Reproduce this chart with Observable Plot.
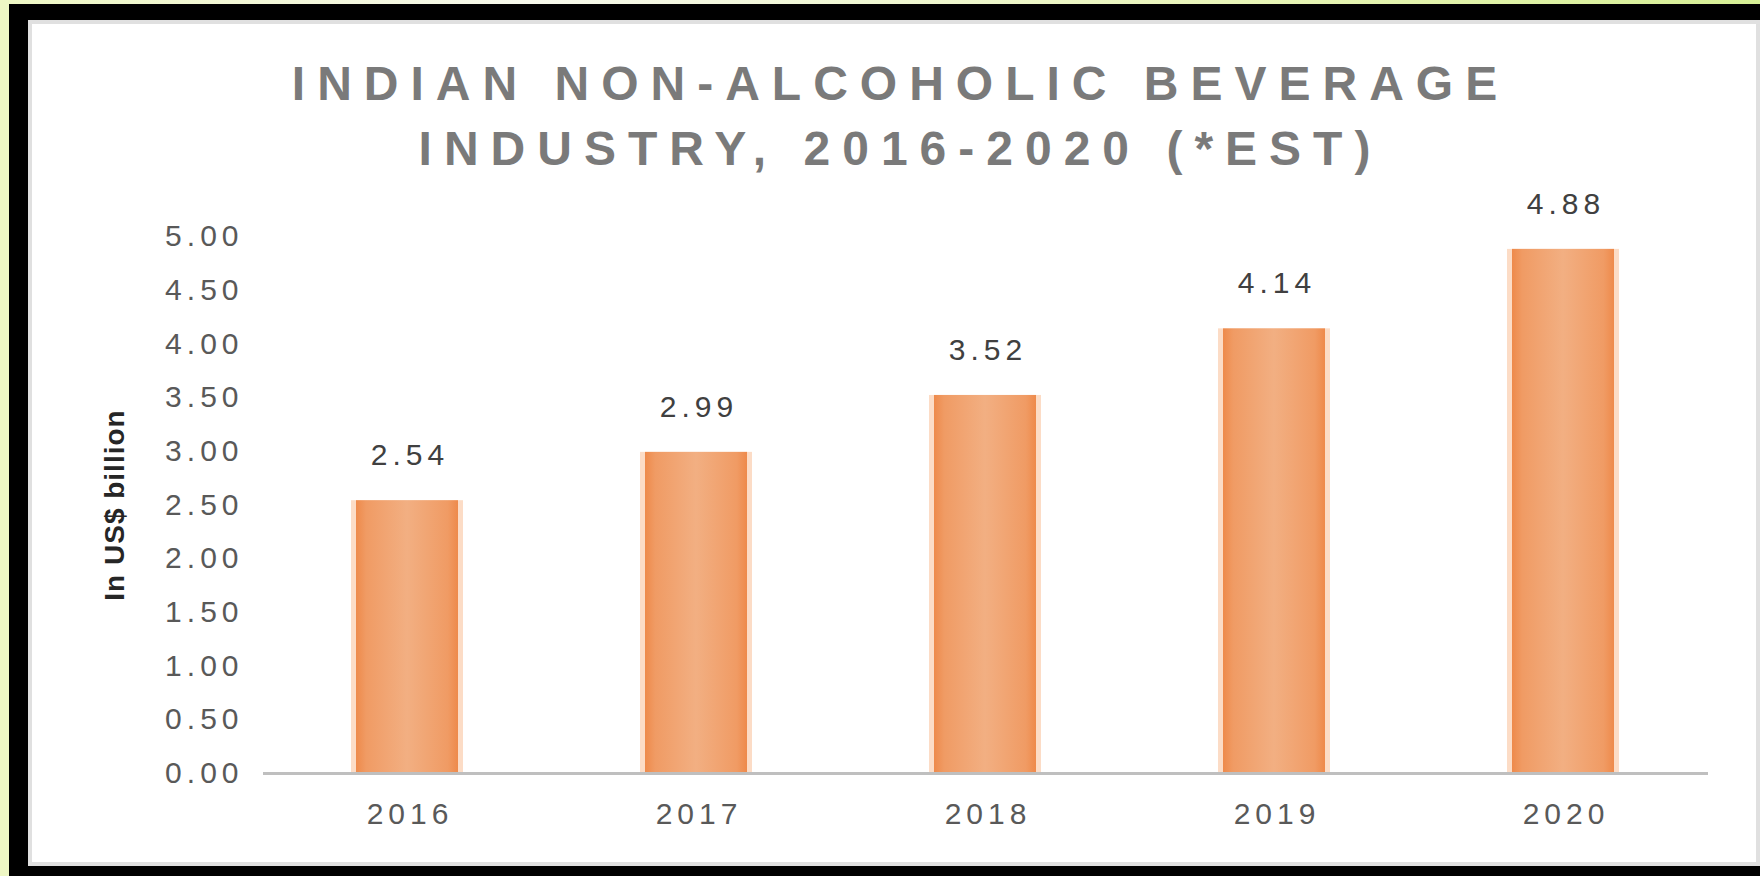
<!DOCTYPE html>
<html>
<head>
<meta charset="utf-8">
<script src="https://cdn.jsdelivr.net/npm/d3@7"></script>
<script src="https://cdn.jsdelivr.net/npm/@observablehq/plot@0.6"></script>
<style>
  html, body { margin: 0; padding: 0; }
  body { width: 1760px; height: 876px; position: relative; overflow: hidden;
         background: linear-gradient(90deg, #eef7c4 0%, #f7f9ec 30%, #e8f5b8 70%, #d6ef95 100%); }
  #frame { position: absolute; left: 9px; top: 4px; width: 1751px; height: 872px; background: #000; }
  #panel { position: absolute; left: 28px; top: 20px; width: 1732px; height: 846px; background: #fff;
           box-sizing: border-box; border: 4px solid #e0e0e0; }
  #title { position: absolute; left: 33px; top: 51px; width: 1723px; text-align: center;
           font-family: "Liberation Sans", sans-serif; font-weight: bold; font-size: 48px;
           line-height: 65px; letter-spacing: 12px; color: #7a7a7a; }
  #title div { padding-left: 12px; }
  #chart { position: absolute; left: 0; top: 180px; }
  #chart svg text { letter-spacing: 5px; }
  #chart svg .ylab text { letter-spacing: 1px; }
</style>
</head>
<body>
<div id="frame"></div>
<div id="panel"></div>
<div id="title"></div>
<div id="chart"></div>
<script>
const titleLines = ["INDIAN NON-ALCOHOLIC BEVERAGE", "INDUSTRY, 2016-2020 (*EST)"];
const years = ["2016", "2017", "2018", "2019", "2020"];
const values = [2.54, 2.99, 3.52, 4.14, 4.88];
const yTicks = [0, 0.5, 1, 1.5, 2, 2.5, 3, 3.5, 4, 4.5, 5];
const yLabel = "In US$ billion";

const data = years.map((year, i) => ({year, value: values[i]}));

const titleEl = document.getElementById("title");
titleLines.forEach(t => { const d = document.createElement("div"); d.textContent = t; titleEl.appendChild(d); });

const chart = Plot.plot({
  width: 1760,
  height: 696,
  marginLeft: 263,
  marginRight: 52,
  marginTop: 56,
  marginBottom: 103,
  style: {fontFamily: "Liberation Sans, sans-serif", fontSize: "30px", background: "transparent", overflow: "visible"},
  x: {domain: years, paddingInner: 0.612, paddingOuter: 0.306},
  y: {domain: [0, 5]},
  marks: [
    Plot.axisY({ticks: yTicks, tickFormat: d => d.toFixed(2), tickSize: 0, tickPadding: 20, label: null, fill: "#595959", fontSize: 30}),
    Plot.axisX({tickSize: 0, tickPadding: 29, label: null, fill: "#595959", fontSize: 30, dx: 2.5}),
    Plot.barY(data, {x: "year", y: "value", fill: "#fcdcc6"}),
    Plot.barY(data, {x: "year", y: "value", fill: "url(#barGrad)", insetLeft: 5, insetRight: 5}),
    Plot.ruleY([0], {stroke: "#bfbfbf", strokeWidth: 3}),
    Plot.text(data, {x: "year", y: "value", text: d => d.value.toFixed(2), dy: -45, dx: 2.5, fill: "#404040", fontSize: 30}),
    Plot.text([yLabel], {frameAnchor: "left", textAnchor: "middle", dx: -148, rotate: -90, fontWeight: "bold", fill: "#262626", fontSize: 28, className: "ylab"})
  ]
});

const ns = "http://www.w3.org/2000/svg";
const defs = document.createElementNS(ns, "defs");
defs.innerHTML = `<linearGradient id="barGrad" x1="0" x2="1" y1="0" y2="0">
  <stop offset="0" stop-color="#ee8a4b"/>
  <stop offset="0.1" stop-color="#f09b64"/>
  <stop offset="0.5" stop-color="#f2af82"/>
  <stop offset="0.9" stop-color="#f09b64"/>
  <stop offset="1" stop-color="#ee8a4b"/>
</linearGradient>`;
chart.insertBefore(defs, chart.firstChild);
document.getElementById("chart").appendChild(chart);
</script>
</body>
</html>
